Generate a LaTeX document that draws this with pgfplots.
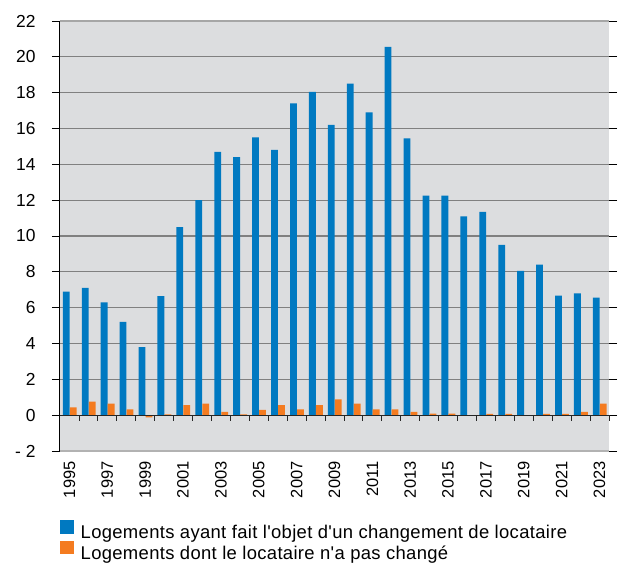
\documentclass[border=0pt]{standalone}
\usepackage{pgfplots}
\pgfplotsset{compat=1.18}
\usepackage{fontspec}
\setmainfont{Liberation Sans}[Ligatures=TeXOff]
\definecolor{cblue}{HTML}{0079C1}
\definecolor{corange}{HTML}{F47B20}
\definecolor{bg}{HTML}{DCDDDF}
\definecolor{gridc}{HTML}{808080}
\begin{document}
\begin{tikzpicture}
\begin{axis}[
  scale only axis, width=549bp, height=430bp,
  xmin=-0.5, xmax=28.5, ymin=-2, ymax=22,
  ytick={-2,0,2,4,6,8,10,12,14,16,18,20,22},
  yticklabels={- 2,0,2,4,6,8,10,12,14,16,18,20,22},
  xtick={0,2,4,6,8,10,12,14,16,18,20,22,24,26,28},
  xticklabels={1995,1997,1999,2001,2003,2005,2007,2009,2011,2013,2015,2017,2019,2021,2023},
  x tick label style={rotate=90, anchor=east, xshift=1bp, font=\fontsize{16.5}{18}\selectfont},
  y tick label style={anchor=east, xshift=-13bp, font=\fontsize{17.5}{19}\selectfont},
  xtick style={draw=none},
  ytick style={black, line width=0.8bp},
  major tick length=8bp,
  tick align=outside,
  ymajorgrids, grid style={gridc, line width=1.1bp},
  axis line style={draw=none},
  axis background/.style={fill=bg},
  ybar=0pt, bar width=0.36,
  clip=false,
  legend style={at={(0,0)}, anchor=north west, yshift=-69bp, draw=none, fill=none,
    inner sep=0pt, font=\fontsize{18.5}{20}\selectfont\addfontfeature{LetterSpace=1.8}, row sep=-1.5bp,
    /tikz/every odd column/.append style={column sep=5bp}},
  legend cell align=left,
  legend image code/.code={\fill[#1] (0bp,-1bp) rectangle (13.5bp,12.5bp);},
]
\addplot[fill=cblue, draw=none, bar shift=-0.17] coordinates {
(0,6.9) (1,7.1) (2,6.3) (3,5.2) (4,3.8) (5,6.65)
(6,10.5) (7,12.0) (8,14.7) (9,14.4) (10,15.5) (11,14.8)
(12,17.4) (13,18.05) (14,16.2) (15,18.5) (16,16.9) (17,20.55)
(18,15.45) (19,12.25) (20,12.25) (21,11.1) (22,11.35) (23,9.5)
(24,8.05) (25,8.4) (26,6.67) (27,6.8) (28,6.56)};
\addplot[fill=corange, draw=none, bar shift=0.2] coordinates {
(0,0.43) (1,0.75) (2,0.65) (3,0.32) (4,-0.13) (5,0.05)
(6,0.56) (7,0.65) (8,0.19) (9,0.05) (10,0.3) (11,0.56)
(12,0.32) (13,0.56) (14,0.88) (15,0.65) (16,0.32) (17,0.32)
(18,0.19) (19,0.09) (20,0.08) (21,0) (22,0.07) (23,0.07)
(24,0) (25,0.07) (26,0.07) (27,0.19) (28,0.65)};
\legend{Logements ayant fait l'objet d'un changement de locataire, Logements dont le locataire n'a pas changé}
\draw[black!85, line width=1bp] (axis cs:-0.5,0) -- (axis cs:28.5,0);
\pgfplotsinvokeforeach{0,...,28}{\draw[black!85, line width=0.8bp] (axis cs:#1.5,0) -- (axis cs:#1.5,-0.33);}
\draw[gray!60, line width=1.5bp] (rel axis cs:0,0) -- (rel axis cs:1,0);
\draw[gray!70, line width=1.2bp] (rel axis cs:0,1) -- (rel axis cs:1,1);
\draw[black, line width=1bp] (rel axis cs:0,0) -- (rel axis cs:0,1);
\coordinate (sw) at (rel axis cs:0,0);
\coordinate (ne) at (rel axis cs:1,1);
\end{axis}
\pgfresetboundingbox
\path[use as bounding box] ([shift={(-60bp,-112bp)}]sw) rectangle ([shift={(10bp,21bp)}]ne);
\end{tikzpicture}
\end{document}
